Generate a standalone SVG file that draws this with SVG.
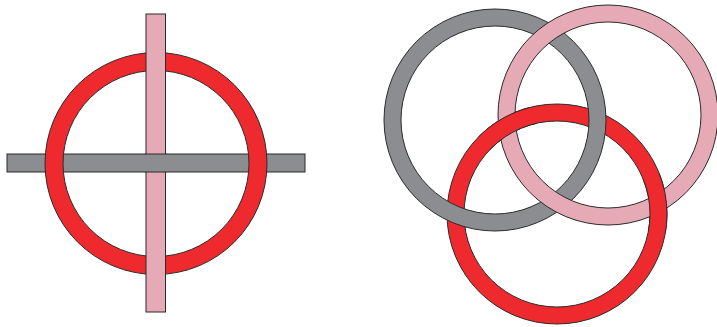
<svg xmlns="http://www.w3.org/2000/svg" width="717" height="327" viewBox="0 0 717 327">
  <style>
    .edge { stroke: #2b2b2b; stroke-width: 1; }
    .red { fill: #ee2a2e; }
    .pink { fill: #e5aab6; }
    .gray { fill: #8b8d90; }
    .ring { fill-rule: evenodd; }
  </style>
  <defs>
    <path id="redRingR" class="ring" d="M447,214 a110,110 0 1,0 220,0 a110,110 0 1,0 -220,0 Z M464,214 a93,93 0 1,0 186,0 a93,93 0 1,0 -186,0 Z"/>
    <clipPath id="rpCross">
      <circle cx="506.5" cy="125.5" r="30"/>
      <circle cx="658.5" cy="203.5" r="30"/>
    </clipPath>
  </defs>
  <rect width="717" height="327" fill="#ffffff"/>

  <!-- Left figure: ring with cross -->
  <g id="cross-hbar">
    <rect class="gray edge" x="7" y="154" width="298" height="18"/>
  </g>
  <g id="cross-ring">
    <path class="red edge ring" d="M45,163.5 a111,111 0 1,0 222,0 a111,111 0 1,0 -222,0 Z M63,163.5 a93,93 0 1,0 186,0 a93,93 0 1,0 -186,0 Z"/>
  </g>
  <g id="cross-vbar">
    <rect class="pink edge" x="146" y="14" width="19.5" height="298"/>
  </g>
  <g id="cross-hbar-over">
    <rect class="gray" x="145" y="154" width="21.5" height="18"/>
    <line class="edge" x1="145" y1="154" x2="166.5" y2="154"/>
    <line class="edge" x1="145" y1="172" x2="166.5" y2="172"/>
  </g>

  <!-- Right figure: three interlaced rings -->
  <g id="ring-red">
    <use href="#redRingR" class="red edge"/>
  </g>
  <g id="ring-gray">
    <path class="gray edge ring" d="M384,120 a111,111 0 1,0 222,0 a111,111 0 1,0 -222,0 Z M401,120 a94,94 0 1,0 188,0 a94,94 0 1,0 -188,0 Z"/>
  </g>
  <g id="ring-pink">
    <path class="pink edge ring" d="M498,115 a110,110 0 1,0 220,0 a110,110 0 1,0 -220,0 Z M515,115 a93,93 0 1,0 186,0 a93,93 0 1,0 -186,0 Z"/>
  </g>
  <g id="ring-red-over" clip-path="url(#rpCross)">
    <use href="#redRingR" class="red edge"/>
  </g>
</svg>
